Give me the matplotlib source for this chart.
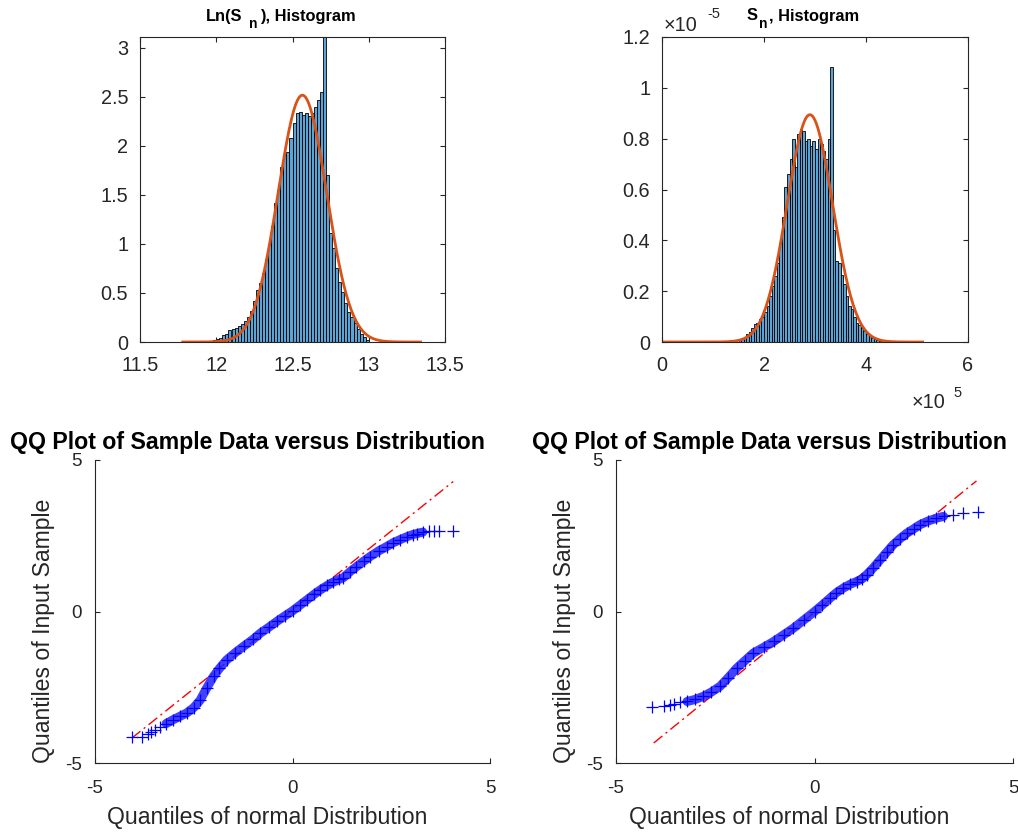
import numpy as np
import matplotlib
matplotlib.use("Agg")
import matplotlib.pyplot as plt
from matplotlib.ticker import FuncFormatter

plt.rcParams['font.family'] = ['Liberation Sans', 'DejaVu Sans']

# ---------------- data ----------------
# Ln(S_n) histogram (density), bins of width 0.02 starting at 11.96
ln_bin_start = 11.96
ln_bin_width = 0.02
ln_density = [0.015, 0.02, 0.03, 0.04, 0.07, 0.08, 0.12, 0.13, 0.14, 0.16,
              0.18, 0.21, 0.25, 0.32, 0.42, 0.53, 0.60, 0.70, 0.85, 1.00,
              1.18, 1.42, 1.55, 1.78, 1.91, 1.94, 2.08, 2.23, 2.33, 2.35,
              2.31, 2.33, 2.30, 2.33, 2.40, 2.47, 2.55, 3.30, 1.70, 1.11,
              0.96, 0.75, 0.61, 0.51, 0.40, 0.31, 0.26, 0.19, 0.13, 0.085,
              0.05, 0.024]
ln_fit_mu, ln_fit_sigma = 12.565, 0.1585
ln_fit_range = (11.78, 13.34)
ln_xticks = [11.5, 12, 12.5, 13, 13.5]
ln_yticks = [0, 0.5, 1, 1.5, 2, 2.5, 3]

# S_n histogram (x in units of 1e5, density in units of 1e-5), bin width 0.05
s_bin_start = 1.50
s_bin_width = 0.05
s_density = [0.01, 0.015, 0.02, 0.03, 0.04, 0.055, 0.07, 0.075, 0.09, 0.10,
             0.12, 0.14, 0.18, 0.22, 0.26, 0.31, 0.39, 0.49, 0.61, 0.66,
             0.72, 0.80, 0.69, 0.82, 0.84, 0.83, 0.79, 0.80, 0.77, 0.79,
             0.76, 0.80, 0.78, 0.75, 0.72, 0.80, 1.08, 0.44, 0.32, 0.31,
             0.265, 0.23, 0.18, 0.14, 0.13, 0.10, 0.075, 0.068, 0.055, 0.042,
             0.033, 0.025, 0.016, 0.012, 0.008, 0.005]
s_fit_mu, s_fit_sigma = 2.90, 0.446
s_fit_range = (0.0, 5.11)
s_xticks = [0, 2, 4, 6]
s_yticks = [0, 0.2, 0.4, 0.6, 0.8, 1.0, 1.2]

# QQ plot 1 (ln S_n)
qq1_x = [-4.07, -3.80, -3.66, -3.57, -3.47, -3.35, -3.20, -3.02, -2.85, -2.68,
         -2.50, -2.34, -2.17, -2.00, -1.85, -1.67, -1.45, -1.24, -1.00, -0.82,
         -0.60, -0.40, -0.20, 0.00, 0.20, 0.36, 0.55, 0.70, 0.88, 1.03,
         1.18, 1.29, 1.46, 1.62, 1.80, 1.96, 2.18, 2.38, 2.55, 2.72,
         2.90, 3.05, 3.14, 3.30, 3.45, 3.57, 3.70, 4.07]
qq1_y = [-4.15, -4.13, -4.03, -3.97, -3.90, -3.80, -3.70, -3.57, -3.46, -3.35,
         -3.17, -2.93, -2.52, -2.14, -1.88, -1.60, -1.36, -1.15, -0.92, -0.72,
         -0.52, -0.33, -0.15, 0.02, 0.22, 0.38, 0.57, 0.71, 0.86, 0.97,
         1.06, 1.12, 1.32, 1.48, 1.66, 1.81, 2.00, 2.14, 2.27, 2.37,
         2.47, 2.54, 2.57, 2.62, 2.65, 2.66, 2.66, 2.67]
qq1_ref_x = [-4.07, 4.07]
qq1_ref_y = [-4.18, 4.29]

# QQ plot 2 (S_n)
qq2_x = [-4.10, -3.80, -3.65, -3.55, -3.40, -3.21, -3.00, -2.80, -2.60, -2.38,
         -2.17, -1.96, -1.75, -1.54, -1.28, -1.03, -0.78, -0.53, -0.26, 0.00,
         0.20, 0.39, 0.55, 0.72, 0.90, 1.06, 1.20, 1.31, 1.48, 1.65,
         1.82, 1.98, 2.15, 2.32, 2.50, 2.65, 2.85, 3.07, 3.25, 3.49,
         3.74, 4.12]
qq2_y = [-3.15, -3.12, -3.08, -3.04, -3.00, -2.97, -2.90, -2.80, -2.66, -2.47,
         -2.18, -1.87, -1.62, -1.37, -1.18, -0.99, -0.77, -0.55, -0.27, 0.00,
         0.22, 0.44, 0.62, 0.77, 0.90, 0.99, 1.08, 1.21, 1.44, 1.70,
         1.96, 2.20, 2.40, 2.58, 2.73, 2.86, 2.98, 3.08, 3.14, 3.19,
         3.24, 3.27]
qq2_ref_x = [-4.05, 4.08]
qq2_ref_y = [-4.34, 4.31]
qq_ticks = [-5, 0, 5]

# ---------------- styling ----------------
W, H = 1018, 834
AX_COL = '#262626'
BAR_COL = (0.36, 0.64, 0.84)
FIT_COL = (0.85, 0.325, 0.098)


def px_rect(l, t, r, b):
    return [l / W, 1 - b / H, (r - l) / W, (b - t) / H]


def fx(x):
    return x / W


def fy(y):
    return 1 - y / H


def fmt(v, pos):
    return '%g' % v


def style(ax, box, labelsize, xpad, ypad):
    for name, sp in ax.spines.items():
        sp.set_color(AX_COL)
        sp.set_linewidth(0.8)
    if not box:
        ax.spines['top'].set_visible(False)
        ax.spines['right'].set_visible(False)
    ax.tick_params(direction='in', length=3.5, width=0.8, colors=AX_COL,
                   labelsize=labelsize, top=box, right=box)
    ax.tick_params(axis='x', pad=xpad)
    ax.tick_params(axis='y', pad=ypad)
    ax.xaxis.set_major_formatter(FuncFormatter(fmt))
    ax.yaxis.set_major_formatter(FuncFormatter(fmt))


fig = plt.figure(figsize=(W / 100, H / 100), dpi=100)

# ---- top-left: Ln(S_n) histogram ----
ax1 = fig.add_axes(px_rect(140, 37, 445, 342))
ln_edges = ln_bin_start + ln_bin_width * np.arange(len(ln_density))
ax1.bar(ln_edges, ln_density, width=ln_bin_width, align='edge',
        color=BAR_COL, edgecolor='black', linewidth=0.6)
xf = np.linspace(ln_fit_range[0], ln_fit_range[1], 200)
ax1.plot(xf, np.exp(-0.5 * ((xf - ln_fit_mu) / ln_fit_sigma) ** 2)
         / (ln_fit_sigma * np.sqrt(2 * np.pi)), color=FIT_COL, lw=2)
ax1.set_xlim(11.5, 13.5)
ax1.set_ylim(0, 3.11)
ax1.set_xticks(ln_xticks)
ax1.set_yticks(ln_yticks)
style(ax1, True, 14.3, 10, 8.5)
# title "Ln(S_n), Histogram"
fig.text(fx(206), fy(21), 'Ln(S', ha='left', va='baseline',
         fontsize=11.8, fontweight='bold')
fig.text(fx(249), fy(28.5), 'n', ha='left', va='baseline',
         fontsize=10, fontweight='bold')
fig.text(fx(260), fy(21), '), Histogram', ha='left', va='baseline',
         fontsize=11.8, fontweight='bold')

# ---- top-right: S_n histogram ----
ax2 = fig.add_axes(px_rect(662, 37, 968, 342))
s_edges = s_bin_start + s_bin_width * np.arange(len(s_density))
ax2.bar(s_edges, s_density, width=s_bin_width, align='edge',
        color=BAR_COL, edgecolor='black', linewidth=0.6)
xf2 = np.linspace(s_fit_range[0], s_fit_range[1], 200)
ax2.plot(xf2, np.exp(-0.5 * ((xf2 - s_fit_mu) / s_fit_sigma) ** 2)
         / (s_fit_sigma * np.sqrt(2 * np.pi)), color=FIT_COL, lw=2)
ax2.set_xlim(0, 6)
ax2.set_ylim(0, 1.2)
ax2.set_xticks(s_xticks)
ax2.set_yticks(s_yticks)
style(ax2, True, 14.3, 10, 8.5)
# title "S_n, Histogram"
fig.text(fx(747), fy(20.5), 'S', ha='left', va='baseline',
         fontsize=11.8, fontweight='bold')
fig.text(fx(758.5), fy(28), 'n', ha='left', va='baseline',
         fontsize=10, fontweight='bold')
fig.text(fx(769), fy(20.5), ', Histogram', ha='left', va='baseline',
         fontsize=11.8, fontweight='bold')
# exponent multipliers
fig.text(fx(664), fy(31), '\u00d710', ha='left', va='baseline',
         fontsize=14.3, color=AX_COL)
fig.text(fx(707), fy(18), '-5', ha='left', va='baseline',
         fontsize=10.5, color=AX_COL)
fig.text(fx(912), fy(408), '\u00d710', ha='left', va='baseline',
         fontsize=14.3, color=AX_COL)
fig.text(fx(953), fy(397), '5', ha='left', va='baseline',
         fontsize=10.5, color=AX_COL)


def qq_panel(rect, qx, qy, rx, ry, title_cx, xlab_cx, ylab_cx):
    ax = fig.add_axes(rect)
    qx = np.asarray(qx)
    qy = np.asarray(qy)
    dense = np.abs(qx) <= 3.3
    ax.plot(rx, ry, color='red', lw=1.0, ls=(0, (8, 3, 1.5, 3)), zorder=1)
    ax.plot(qx[dense], qy[dense], '-', color=(0.12, 0.12, 1.0), lw=6.5,
            solid_capstyle='round', solid_joinstyle='round', alpha=0.85,
            zorder=2)
    ax.plot(qx, qy, '+', color='blue', ms=8.5, mew=0.9, zorder=3)
    ax.set_xlim(-5, 5)
    ax.set_ylim(-5, 5)
    ax.set_xticks(qq_ticks)
    ax.set_yticks(qq_ticks)
    style(ax, False, 13.5, 12, 9.5)
    fig.text(fx(title_cx), fy(448.5),
             'QQ Plot of Sample Data versus Distribution',
             ha='center', va='baseline', fontsize=16.7, fontweight='bold')
    fig.text(fx(xlab_cx), fy(824), 'Quantiles of normal Distribution',
             ha='center', va='baseline', fontsize=16.6, color=AX_COL)
    fig.text(fx(ylab_cx), fy(630.5), 'Quantiles of Input Sample',
             ha='center', va='center', rotation=90, fontsize=16.6,
             color=AX_COL)
    return ax


ax3 = qq_panel(px_rect(95, 460, 490, 763), qq1_x, qq1_y, qq1_ref_x, qq1_ref_y,
               247.5, 267, 44)
ax4 = qq_panel(px_rect(616, 460, 1013, 763), qq2_x, qq2_y, qq2_ref_x,
               qq2_ref_y, 769, 789, 565)

fig.savefig('out.png', dpi=100)
